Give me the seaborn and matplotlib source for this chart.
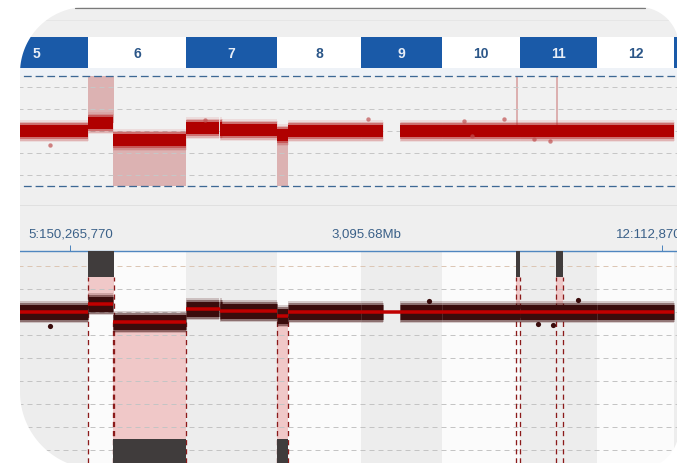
import numpy as np
import pandas as pd
import matplotlib
matplotlib.use("Agg")
import matplotlib.pyplot as plt
from matplotlib.path import Path
from matplotlib.patches import PathPatch
from matplotlib.lines import Line2D
import seaborn as sns

# chromosomes in view (hg19 lengths, Mb)
chroms = ["5", "6", "7", "8", "9", "10", "11", "12", "13"]
chrom_len = [180.9, 171.1, 159.1, 146.4, 141.2, 135.5, 135.0, 133.9, 115.2]

# copy number segments (chrom, start Mb, end Mb, log2 ratio)
seg_chrom = ["5", "6", "6", "7", "7", "8", "8", "9", "10", "11", "12"]
seg_start = [50.0, 0.0, 44.0, 0.0, 60.0, 0.0, 18.0, 0.0, 0.0, 0.0, 0.0]
seg_end = [180.9, 44.0, 171.1, 60.0, 159.1, 18.0, 146.4, 141.2, 135.5, 135.0, 133.9]
seg_level = [0.01, 0.18, -0.21, 0.06, 0.03, -0.08, 0.0, 0.0, 0.0, 0.0, 0.0]

# regions without probes
gap_chrom = ["7", "9"]
gap_start = [57.0, 39.0]
gap_end = [62.5, 68.0]

# called aberrations
ev_chrom = ["6", "6", "8", "10", "11"]
ev_start = [0.0, 44.0, 0.0, 128.5, 63.0]
ev_end = [45.0, 171.1, 18.0, 135.5, 75.0]
ev_type = ["gain", "loss", "loss", "gain", "gain"]

# a few stray probes
out_chrom = ["5", "7", "9", "10", "10", "10", "11", "11"]
out_pos = [114.6, 33.1, 12.1, 38.4, 52.3, 108.2, 25.1, 53.0]
out_top = [-0.32, 0.25, 0.27, 0.23, -0.11, 0.27, -0.18, -0.23]
out_bot_chrom = ["5", "9", "11", "11", "11"]
out_bot_pos = [114.6, 118.5, 32.0, 58.2, 101.9]
out_bot = [-0.30, 0.24, -0.26, -0.28, 0.26]

tick_chrom = ["5", "12"]
tick_pos = [150.265770, 112.870395]
tick_text = ["5:150,265,770", "12:112,870,395"]
mid_text = "3,095.68Mb"

# ---------------------------------------------------------------
offs = dict(zip(chroms, np.concatenate([[0.0], np.cumsum(chrom_len)[:-1]])))
g = lambda c, p: offs[c] + p

W, H = 677, 464
XLIM = (27.3, 1208.8)

sns.set_style("white")
plt.rcParams["font.family"] = ["Liberation Sans", "DejaVu Sans"]

fig = plt.figure(figsize=(W / 100, H / 100), dpi=100, facecolor="#efefef")


def px_axes(x0, y0, x1, y1):
    ax = fig.add_axes([x0 / W, 1 - y1 / H, (x1 - x0) / W, (y1 - y0) / H])
    ax.set_xlim(*XLIM)
    for s in ax.spines.values():
        s.set_visible(False)
    ax.set_xticks([])
    ax.set_yticks([])
    return ax


# pieces of band = segments minus gaps
pieces = []
for c, s, e, lv in zip(seg_chrom, seg_start, seg_end, seg_level):
    cuts = [(gs, ge) for gc, gs, ge in zip(gap_chrom, gap_start, gap_end) if gc == c and s < gs < e]
    cur = s
    for gs, ge in cuts:
        pieces.append((c, cur, gs, lv))
        cur = ge
    pieces.append((c, cur, e, lv))

band = pd.DataFrame(
    [(g(c, p), lv, i) for i, (c, s, e, lv) in enumerate(pieces) for p in (s, e)],
    columns=["x", "y", "piece"])
segs = pd.DataFrame(
    [(g(c, p), lv, i) for i, (c, s, e, lv) in enumerate(zip(seg_chrom, seg_start, seg_end, seg_level)) for p in (s, e)],
    columns=["x", "y", "piece"])


def level_at(c, p):
    for sc, s, e, lv in zip(seg_chrom, seg_start, seg_end, seg_level):
        if sc == c and s <= p < e:
            return lv
    return 0.0


PX = 0.72  # points per pixel


def draw_band(ax, layers, z):
    for lw, col, a in layers:
        sns.lineplot(data=band, x="x", y="y", units="piece", estimator=None, ax=ax, color=col,
                     alpha=a, lw=lw * PX, solid_capstyle="butt", legend=False, zorder=z)


# ---------------- chromosome bar ----------------
ax_chr = px_axes(0, 38, W, 69)
ax_chr.set_ylim(0, 1)
ax_chr.set_facecolor("#ffffff")
bar_cols = ["#1a5aa8" if i % 2 == 0 else "#ffffff" for i in range(len(chroms))]
ax_chr.bar([offs[c] for c in chroms], 1, width=chrom_len, align="edge", color=bar_cols, lw=0)
for i, c in enumerate(chroms):
    mid = offs[c] + chrom_len[i] / 2
    if mid > XLIM[1]:
        continue
    if mid < XLIM[0] + 40:
        mid = XLIM[0] + 40
    ax_chr.text(mid, 0.48, c, ha="center", va="center", fontsize=10, fontweight="bold",
                color="#e8eef7" if i % 2 == 0 else "#2b5688")

# ---------------- top overview ----------------
ax_top = px_axes(0, 69, W, 190)
ax_top.set_ylim(-(190 - 132) / 44, (132 - 69) / 44)
ax_top.set_facecolor("#f1f1f1")
ax_top.axhspan(1.25, 2, color="#eef2f7", lw=0, zorder=0)
for y in [1.0, 0.5, 0.0, -0.5, -1.0]:
    ax_top.axhline(y, color="#c6c6c6", lw=1 * PX, ls=(0, (5, 4)), zorder=2)
for y in [1.25, -1.25]:
    ax_top.axhline(y, color="#3d6894", lw=1.3 * PX, ls=(0, (6, 3)), zorder=2)
for c, s, e, t in zip(ev_chrom, ev_start, ev_end, ev_type):
    lv = level_at(c, s + 0.1)
    if e - s < 15:
        ax_top.vlines(g(c, s) + 3, lv, 1.25, color="#dcb0b0", lw=2 * PX, zorder=1)
    elif t == "gain":
        ax_top.fill_between([g(c, s), g(c, e)], lv, 1.25, color="#dcb2b2", lw=0, zorder=1)
    else:
        ax_top.fill_between([g(c, s), g(c, e)], lv, -1.25, color="#dcb2b2", lw=0, zorder=1)
draw_band(ax_top, [(22, "#c84a4a", 0.12), (19, "#c03a3a", 0.25), (16, "#b81c1c", 0.45),
                   (12, "#b00000", 1.0)], 3)
sns.scatterplot(x=[g(c, p) for c, p in zip(out_chrom, out_pos)], y=out_top, ax=ax_top,
                color="#c05050", s=10, alpha=0.7, lw=0, zorder=4)
ax_top.set_xlabel("")
ax_top.set_ylabel("")
ax_top.set_xlim(*XLIM)

# ---------------- bottom detail ----------------
ax_bot = px_axes(0, 252, W, 464)
ylo, yhi = -(464 - 313) / 46, (313 - 252) / 46
ax_bot.set_ylim(ylo, yhi)
ax_bot.set_facecolor("#fafafa")
for i, c in enumerate(chroms):
    ax_bot.axvspan(offs[c], offs[c] + chrom_len[i], color="#ededed" if i % 2 == 0 else "#fbfbfb",
                   lw=0, zorder=0)
box_edge, low_edge = 0.76, -2.76
for c, s, e, t in zip(ev_chrom, ev_start, ev_end, ev_type):
    lv = level_at(c, s + 0.1)
    xs = [g(c, s), g(c, e)]
    if t == "gain":
        ax_bot.fill_between(xs, lv, box_edge, color="#f0c8c8", lw=0, zorder=1)
        ax_bot.fill_between(xs, box_edge, yhi, color="#403c3c", lw=0, zorder=3)
        ax_bot.vlines(xs, ylo, box_edge, colors="#8b1a1a", lw=1.3 * PX, linestyles=(0, (4, 3)), zorder=2.5)
    else:
        ax_bot.fill_between(xs, lv, low_edge, color="#f0c8c8", lw=0, zorder=1)
        ax_bot.fill_between(xs, ylo, low_edge, color="#403c3c", lw=0, zorder=3)
        ax_bot.vlines(xs, ylo, lv, colors="#8b1a1a", lw=1.3 * PX, linestyles=(0, (4, 3)), zorder=2.5)
for y in np.arange(1.0, -3.01, -0.5):
    ax_bot.axhline(y, color="#dcc6b4" if y == 1.0 else "#c4c4c4", lw=1 * PX, ls=(0, (5, 4)), zorder=2)
draw_band(ax_bot, [(22, "#4a1010", 0.2), (19, "#401010", 0.45), (15, "#3a0c0c", 1.0)], 4)
sns.lineplot(data=segs, x="x", y="y", units="piece", estimator=None, ax=ax_bot, color="#c00000",
             lw=3.5 * PX, solid_capstyle="butt", legend=False, zorder=6)
sns.scatterplot(x=[g(c, p) for c, p in zip(out_bot_chrom, out_bot_pos)], y=out_bot, ax=ax_bot,
                color="#3a0c0c", s=14, lw=0, zorder=5)
ax_bot.set_xlabel("")
ax_bot.set_ylabel("")
ax_bot.set_xlim(*XLIM)
ax_bot.spines["top"].set_visible(True)
ax_bot.spines["top"].set_color("#4f86bf")
ax_bot.spines["top"].set_linewidth(1.4 * PX)
ax_bot.set_xticks([g(c, p) for c, p in zip(tick_chrom, tick_pos)], tick_text)
ax_bot.tick_params(axis="x", top=True, bottom=False, labeltop=True, labelbottom=False,
                   direction="out", length=6 * PX, width=1 * PX, color="#4f86bf",
                   labelcolor="#3a6088", labelsize=9.5, pad=5 * PX)
ax_bot.annotate(mid_text, xy=(666, 1), xycoords=("data", "axes fraction"),
                xytext=(0, 11 * PX), textcoords="offset points", ha="center", va="bottom",
                fontsize=9.5, color="#3a6088")

# ---------------- frame decoration ----------------
fig.add_artist(Line2D([0, 1], [1 - 205.5 / H] * 2, color="#e0e0e0", lw=1 * PX))
fig.add_artist(Line2D([0, 1], [1 - 20.5 / H] * 2, color="#e6e6e6", lw=1 * PX))
fig.add_artist(Line2D([75 / W, 645 / W], [1 - 8.5 / H] * 2, color="#7a7a7a", lw=1.2 * PX, zorder=101))


def arc(cx, cy, r, a0, a1):
    t = np.radians(np.linspace(a0, a1, 40))
    return np.column_stack([cx + r * np.cos(t), cy + r * np.sin(t)])


L, T, R, B = 20, 8, 679, 470
rtl, rtr, rbr, rbl = 66, 40, 40, 77
inner = np.vstack([arc(L + rtl, T + rtl, rtl, 180, 270), arc(R - rtr, T + rtr, rtr, 270, 360),
                   arc(R - rbr, B - rbr, rbr, 0, 90), arc(L + rbl, B - rbl, rbl, 90, 180)])
inner = np.column_stack([inner[:, 0] / W, 1 - inner[:, 1] / H])
outer = np.array([[-0.1, -0.1], [1.1, -0.1], [1.1, 1.1], [-0.1, 1.1]])


def area(p):
    return 0.5 * np.sum(p[:, 0] * np.roll(p[:, 1], -1) - np.roll(p[:, 0], -1) * p[:, 1])


if np.sign(area(inner)) == np.sign(area(outer)):
    inner = inner[::-1]
verts = np.vstack([outer, outer[:1], inner, inner[:1]])
codes = ([Path.MOVETO] + [Path.LINETO] * 3 + [Path.CLOSEPOLY] +
         [Path.MOVETO] + [Path.LINETO] * (len(inner) - 1) + [Path.CLOSEPOLY])
fig.add_artist(PathPatch(Path(verts, codes), facecolor="white", edgecolor="none",
                         transform=fig.transFigure, zorder=100))

fig.savefig("out.png", dpi=100, facecolor=fig.get_facecolor())
